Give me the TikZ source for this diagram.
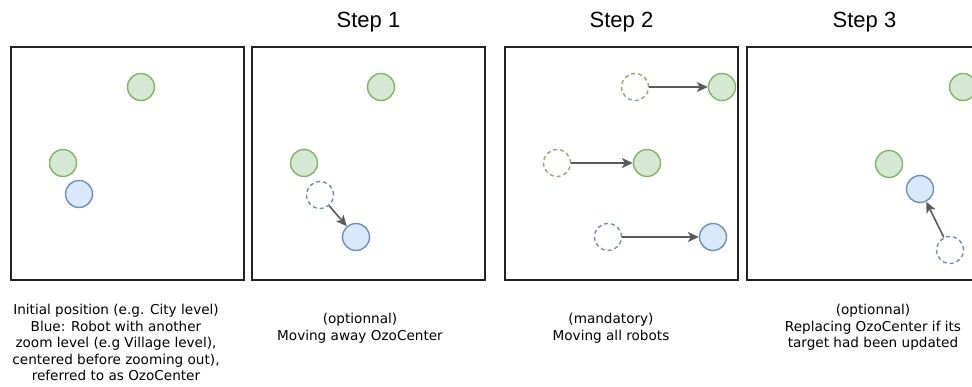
\documentclass[tikz,border=0pt]{standalone}
\usepackage{fontspec}
\setmainfont{DejaVu Sans}
\newfontfamily\titlefont{Liberation Sans}
\usetikzlibrary{arrows.meta}
\definecolor{gfill}{HTML}{D5E8D4}
\definecolor{gline}{HTML}{82B366}
\definecolor{bfill}{HTML}{DAE8FC}
\definecolor{bline}{HTML}{6C8EBF}
\definecolor{arrcol}{HTML}{5A5A5A}
\definecolor{boxcol}{HTML}{222222}
\tikzset{
  panel/.style={draw=boxcol, line width=2pt},
  robot/.style={circle, minimum size=27pt, inner sep=0pt, line width=1.4pt},
  green/.style={robot, draw=gline, fill=gfill},
  blue/.style={robot, draw=bline, fill=bfill},
  greenghost/.style={robot, draw=gline, dash pattern=on 4pt off 3pt},
  blueghost/.style={robot, draw=bline, dash pattern=on 4pt off 3pt},
  mover/.style={draw=arrcol, line width=1.6pt, -{Stealth[length=11pt,width=10pt,inset=3pt]}},
  steptitle/.style={font=\titlefont\fontsize{22pt}{26pt}\selectfont, anchor=base, inner sep=0pt},
  caption/.style={font=\fontsize{13.6pt}{16.5pt}\selectfont, align=center, anchor=north, inner sep=0pt},
}
\begin{document}
\begin{tikzpicture}[x=1pt,y=-1pt]
\useasboundingbox (0,0) rectangle (972,387);
\clip (0,0) rectangle (972,387);
% panels
\draw[panel] (11,47) rectangle (244,280);
\draw[panel] (252,47) rectangle (485,280);
\draw[panel] (505,47) rectangle (738,280);
\draw[panel] (747,47) rectangle (980,280);
% titles
\node[steptitle] (t1) at (368.5,28) {Step 1};
\node[steptitle] (t2) at (621.5,28) {Step 2};
\node[steptitle] (t3) at (864.5,28) {Step 3};
% panel 1
\node[green] (a1) at (141,87) {};
\node[green] (a2) at (63,163) {};
\node[blue] (a3) at (79,194) {};
% panel 2
\node[green] (b1) at (381,87) {};
\node[green] (b2) at (304,163) {};
\node[blueghost] (b3) at (320,195) {};
\node[blue] (b4) at (356,237) {};
\draw[mover] (b3) -- (b4);
% panel 3
\node[greenghost] (c1) at (635,87) {};
\node[green] (c2) at (722,87) {};
\node[greenghost] (c3) at (557,163) {};
\node[green] (c4) at (647,163) {};
\node[blueghost] (c5) at (608,237) {};
\node[blue] (c6) at (713,237) {};
\draw[mover] (c1) -- (c2);
\draw[mover] (c3) -- (c4);
\draw[mover] (c5) -- (c6);
% panel 4
\node[green] (d1) at (963,87) {};
\node[green] (d2) at (889,164) {};
\node[blue] (d3) at (920,189) {};
\node[blueghost] (d4) at (950,250) {};
\draw[mover] (d4) -- (d3);
% captions
\node[caption] (k1) at (116,304) {Initial position (e.g. City level)\\Blue: Robot with another\\zoom level (e.g Village level),\\centered before zooming out),\\referred to as OzoCenter};
\node[caption] (k2) at (360,313) {(optionnal)\\Moving away OzoCenter};
\node[caption] (k3) at (611,313) {(mandatory)\\Moving all robots};
\node[caption] (k4) at (873,304) {(optionnal)\\Replacing OzoCenter if its\\target had been updated};
\end{tikzpicture}
\end{document}
